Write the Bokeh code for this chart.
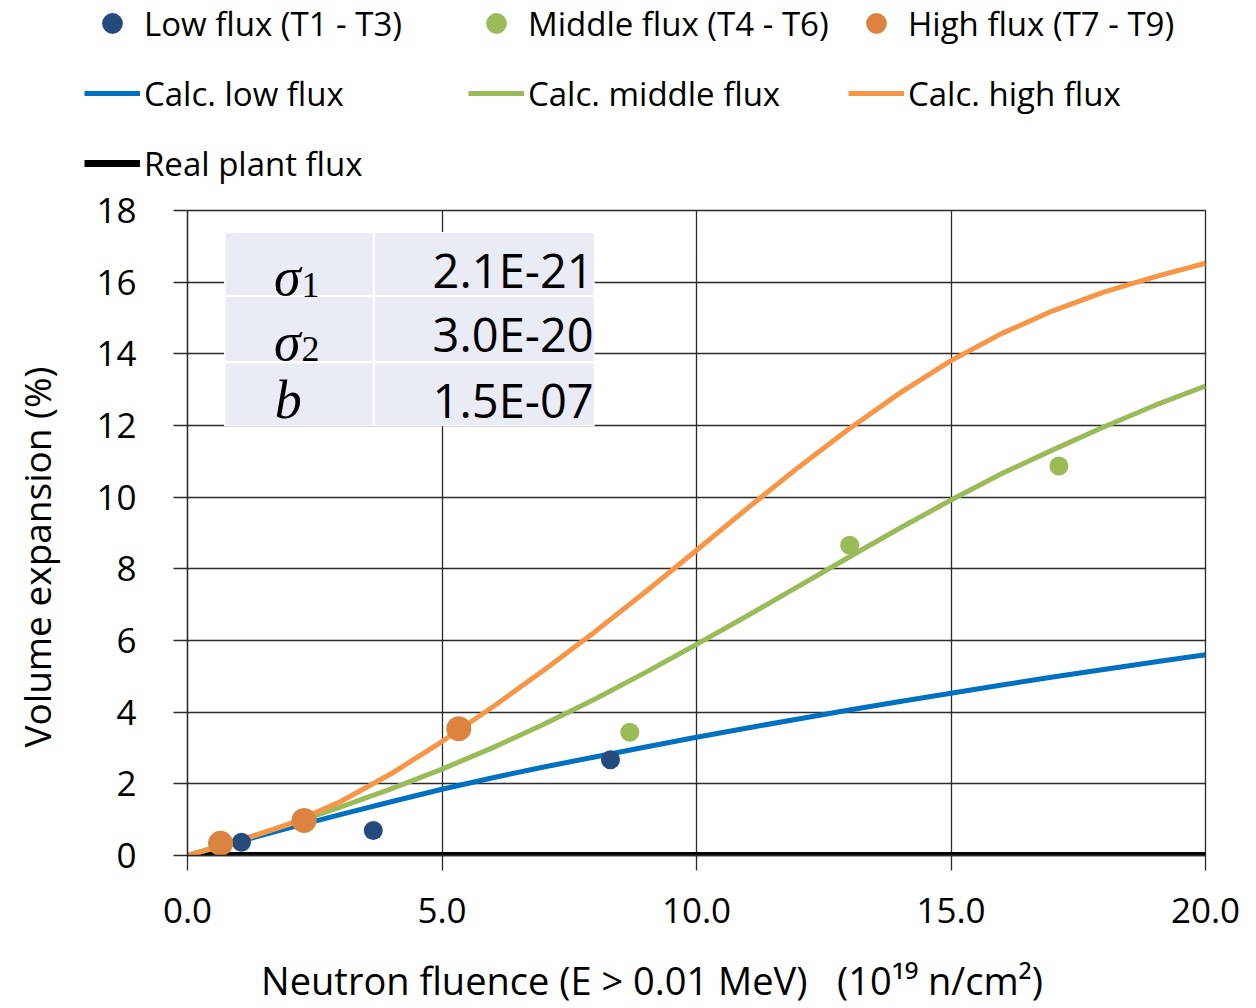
from bokeh.plotting import figure
from bokeh.layouts import column
from bokeh.models import Range1d, FixedTicker, Legend, LegendItem, Label, BoxAnnotation
from bokeh.embed import file_html
from bokeh.resources import INLINE

# ---------------- data ----------------
low_flux_x = [1.06, 3.65, 8.31]
low_flux_y = [0.37, 0.70, 2.67]
middle_flux_x = [8.69, 13.01, 17.12]
middle_flux_y = [3.44, 8.66, 10.87]
high_flux_x = [0.65, 2.29, 5.33]
high_flux_y = [0.34, 0.98, 3.54]

calc_x = [0, 1, 2, 3, 4, 5, 6, 7, 8, 9, 10, 11, 12, 13, 14, 15, 16, 17, 18, 19, 20]
calc_low_y = [0, 0.39, 0.77, 1.14, 1.50, 1.85, 2.17, 2.47, 2.75, 3.03, 3.30,
              3.56, 3.81, 4.06, 4.30, 4.53, 4.76, 4.98, 5.19, 5.40, 5.60]
calc_middle_y = [0, 0.42, 0.87, 1.35, 1.86, 2.41, 3.01, 3.66, 4.36, 5.11, 5.89,
                 6.69, 7.51, 8.33, 9.14, 9.92, 10.66, 11.32, 11.96, 12.56, 13.10]
calc_high_y = [0, 0.40, 0.88, 1.50, 2.28, 3.18, 4.15, 5.17, 6.24, 7.36, 8.52,
               9.69, 10.83, 11.91, 12.91, 13.81, 14.57, 15.20, 15.72, 16.15, 16.53]
real_plant_x = [0.0, 20.0]
real_plant_y = [0.0, 0.0]

x_ticks = [0, 5, 10, 15, 20]
x_tick_labels = ["0.0", "5.0", "10.0", "15.0", "20.0"]
y_ticks = [0, 2, 4, 6, 8, 10, 12, 14, 16, 18]

param_symbols = ["σ", "σ", "b"]
param_subscripts = ["1", "2", ""]
param_values = ["2.1E-21", "3.0E-20", "1.5E-07"]

legend_labels = ["Low flux (T1 - T3)", "Middle flux (T4 - T6)", "High flux (T7 - T9)",
                 "Calc. low flux", "Calc. middle flux", "Calc. high flux", "Real plant flux"]

# ---------------- styles ----------------
FONT = "Open Sans"
LOW_PT = "#254A7C"
MID_PT = "#9BBB59"
HIGH_PT = "#DC843F"
LOW_LN = "#0070C0"
MID_LN = "#9BBB59"
HIGH_LN = "#F79646"
GRID = "#2b2b2b"
NB = "\u00a0"
W = 1256
LEG_H = 186
MAIN_H = 1008 - LEG_H


def add_series(fig):
    rs = {}
    rs["real"] = fig.line(real_plant_x, real_plant_y, line_color="black", line_width=7)
    rs["clow"] = fig.line(calc_x, calc_low_y, line_color=LOW_LN, line_width=5)
    rs["cmid"] = fig.line(calc_x, calc_middle_y, line_color=MID_LN, line_width=5)
    rs["chigh"] = fig.line(calc_x, calc_high_y, line_color=HIGH_LN, line_width=5)
    rs["low"] = fig.scatter(low_flux_x, low_flux_y, size=19, fill_color=LOW_PT, line_color=None)
    rs["mid"] = fig.scatter(middle_flux_x, middle_flux_y, size=19, fill_color=MID_PT, line_color=None)
    rs["high"] = fig.scatter(high_flux_x, high_flux_y, size=25, fill_color=HIGH_PT, line_color=None)
    return rs


# ---------------- main chart ----------------
p = figure(width=W, height=MAIN_H, x_range=Range1d(0, 20), y_range=Range1d(0, 18),
           output_backend="svg", toolbar_location=None,
           min_border_left=187, min_border_right=51, min_border_top=210 - LEG_H,
           min_border_bottom=153)
p.frame_align = False
p.background_fill_color = "white"
p.border_fill_color = "white"
p.outline_line_color = GRID
p.outline_line_width = 1.3

p.xaxis.ticker = FixedTicker(ticks=x_ticks)
p.xaxis.major_label_overrides = {t: l for t, l in zip(x_ticks, x_tick_labels)}
p.yaxis.ticker = FixedTicker(ticks=y_ticks)
for ax in (p.xaxis, p.yaxis):
    ax.axis_line_color = GRID
    ax.axis_line_width = 1.3
    ax.major_tick_line_color = GRID
    ax.major_tick_line_width = 1.3
    ax.major_tick_in = 0
    ax.minor_tick_line_color = None
    ax.major_label_text_font = FONT
    ax.major_label_text_font_size = "35px"
    ax.major_label_text_color = "black"
    ax.axis_label_text_font = FONT
    ax.axis_label_text_font_style = "normal"
    ax.axis_label_text_color = "black"
p.xaxis.axis_label_text_font_size = "38px"
p.yaxis.axis_label_text_font_size = "37px"
p.xaxis.major_tick_out = 15
p.yaxis.major_tick_out = 14
p.xaxis.major_label_standoff = 27
p.yaxis.major_label_standoff = 37
p.xaxis.axis_label = "Neutron fluence (E > 0.01 MeV)" + NB * 3 + "(10¹⁹ n/cm²)" + NB * 9
p.yaxis.axis_label = "Volume expansion (%)" + NB * 5
p.xaxis.axis_label_standoff = 28
p.yaxis.axis_label_standoff = 31

p.xgrid.ticker = FixedTicker(ticks=x_ticks)
p.ygrid.ticker = FixedTicker(ticks=y_ticks)
for g in (p.xgrid, p.ygrid):
    g.grid_line_color = GRID
    g.grid_line_width = 1.3

add_series(p)

# parameter table (layout constants in data units)
col_edges = [(0.75, 3.64), (3.68, 7.98)]
row_edges = [(17.37, 15.64), (15.58, 13.80), (13.74, 12.01)]
p.add_layout(BoxAnnotation(left=0.72, right=8.0, top=17.4, bottom=11.98,
                           fill_color="white", fill_alpha=1, line_color=None))
for (top, bottom) in row_edges:
    for (left, right) in col_edges:
        p.add_layout(BoxAnnotation(left=left, right=right, top=top, bottom=bottom,
                                   fill_color="#E9EBF5", fill_alpha=1, line_color=None))
sym_x = [1.96, 1.96, 1.98]
sub_x = 2.24
val_x = 7.98
sym_base = [16.15, 14.33, 12.70]
sub_base = [15.93, 14.13, 12.70]
val_base = [16.34, 14.54, 12.72]
for i in range(3):
    p.add_layout(Label(x=sym_x[i], y=sym_base[i], text=param_symbols[i], text_align="center",
                       text_baseline="alphabetic", text_font="Liberation Serif",
                       text_font_style="italic", text_font_size="54px", text_color="black"))
    if param_subscripts[i]:
        p.add_layout(Label(x=sub_x, y=sub_base[i], text=param_subscripts[i], text_align="left",
                           text_baseline="alphabetic", text_font="Liberation Serif",
                           text_font_size="36px", text_color="black"))
    p.add_layout(Label(x=val_x, y=val_base[i], text=param_values[i], text_align="right",
                       text_baseline="alphabetic", text_font=FONT,
                       text_font_size="47px", text_color="black"))

# ---------------- legend strip above the chart ----------------
# same series, drawn into a view range where none of them is visible: only the legend shows
lf = figure(width=W, height=LEG_H, x_range=Range1d(-2, -1), y_range=Range1d(-2, -1),
            output_backend="svg", toolbar_location=None, min_border=0,
            x_axis_location=None, y_axis_location=None)
lf.frame_align = False
lf.outline_line_color = None
lf.grid.visible = False
lf.background_fill_color = "white"
lf.border_fill_color = "white"
k = add_series(lf)


def make_legend(items, loc):
    return Legend(items=items, location=loc, orientation="vertical",
                  glyph_width=56, glyph_height=52, label_height=52, spacing=18,
                  label_standoff=4, padding=0, margin=0,
                  border_line_color=None, background_fill_alpha=0,
                  label_text_font=FONT, label_text_font_size="33px", label_text_color="black")


leg1 = make_legend([LegendItem(label=legend_labels[0], renderers=[k["low"]]),
                    LegendItem(label=legend_labels[3], renderers=[k["clow"]]),
                    LegendItem(label=legend_labels[6], renderers=[k["real"]])], (84, -3))
leg2 = make_legend([LegendItem(label=legend_labels[1], renderers=[k["mid"]]),
                    LegendItem(label=legend_labels[4], renderers=[k["cmid"]])], (468, 67))
leg3 = make_legend([LegendItem(label=legend_labels[2], renderers=[k["high"]]),
                    LegendItem(label=legend_labels[5], renderers=[k["chigh"]])], (848, 67))
for lg in (leg1, leg2, leg3):
    lf.add_layout(lg, "center")

page = column(lf, p, spacing=0)
open("out.html", "w").write(file_html(page, INLINE))
